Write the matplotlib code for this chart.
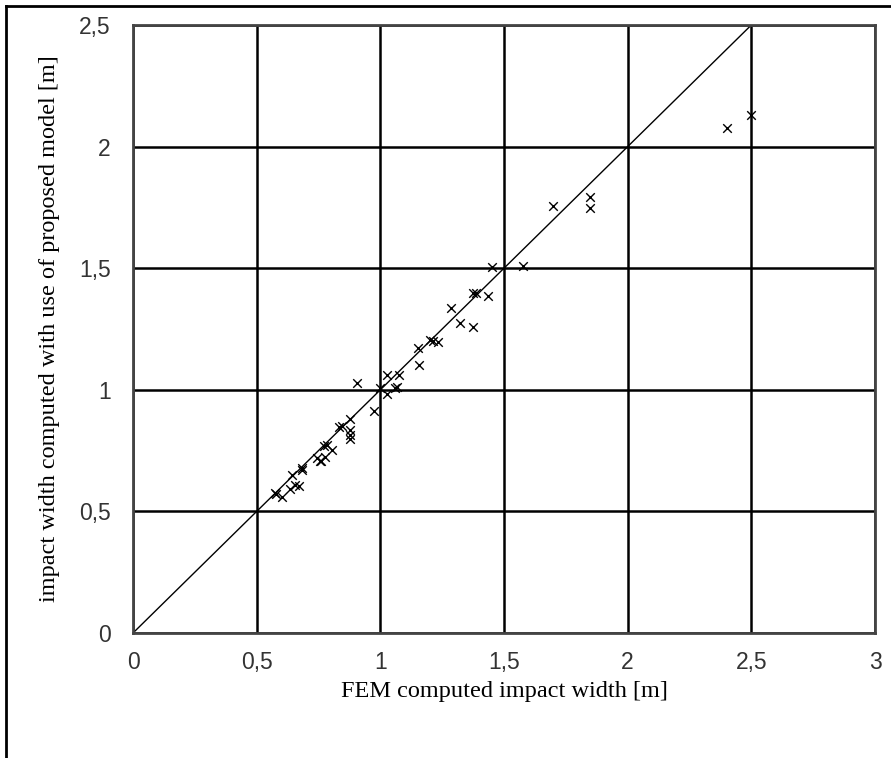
import matplotlib.pyplot as plt
from matplotlib.lines import Line2D
from matplotlib.ticker import FuncFormatter

# FEM computed vs model computed impact width [m]
fem = [0.574, 0.580, 0.601, 0.635, 0.642, 0.655, 0.673, 0.682, 0.682,
       0.743, 0.756, 0.759, 0.772, 0.776, 0.786, 0.803, 0.834, 0.846,
       0.877, 0.877, 0.877, 0.877, 0.904, 0.975, 0.998, 1.026, 1.026,
       1.059, 1.066, 1.077, 1.154, 1.158, 1.200, 1.214, 1.235, 1.285,
       1.322, 1.376, 1.376, 1.387, 1.437, 1.450, 1.578, 1.700, 1.848,
       1.848, 2.400, 2.500]
model = [0.577, 0.572, 0.558, 0.591, 0.650, 0.609, 0.604, 0.677, 0.672,
         0.718, 0.706, 0.708, 0.769, 0.725, 0.773, 0.752, 0.846, 0.852,
         0.879, 0.835, 0.814, 0.796, 1.027, 0.914, 1.006, 1.061, 0.983,
         1.006, 1.010, 1.061, 1.171, 1.100, 1.205, 1.202, 1.198, 1.335,
         1.276, 1.399, 1.260, 1.400, 1.387, 1.504, 1.510, 1.757, 1.794,
         1.746, 2.075, 2.130]

xticks = [0, 0.5, 1, 1.5, 2, 2.5, 3]
yticks = [0, 0.5, 1, 1.5, 2, 2.5]

fig = plt.figure(figsize=(8.91, 7.58), dpi=100)
ax = fig.add_axes([133 / 891, 1 - 633 / 758, (875 - 133) / 891, (633 - 25) / 758])

ax.plot([0, 2.5], [0, 2.5], color="black", lw=1.0, zorder=2)
ax.scatter(fem, model, marker="x", s=38, color="black", linewidths=1.0, zorder=3)

ax.set_xlim(0, 3)
ax.set_ylim(0, 2.5)
ax.set_xticks(xticks)
ax.set_yticks(yticks)
comma = FuncFormatter(lambda v, p: ("%g" % v).replace(".", ","))
ax.xaxis.set_major_formatter(comma)
ax.yaxis.set_major_formatter(comma)
ax.tick_params(length=0, labelsize=16.5, colors="#333333")
ax.tick_params(axis="x", pad=13)
ax.tick_params(axis="y", pad=16)
for lab in ax.get_xticklabels() + ax.get_yticklabels():
    lab.set_family("Liberation Sans")
ax.grid(True, color="black", lw=1.8, zorder=1)
ax.set_axisbelow(True)
for sp in ax.spines.values():
    sp.set_color("#444444")
    sp.set_linewidth(2)

ax.set_xlabel("FEM computed impact width [m]", family="Liberation Serif",
              fontsize=17.5, labelpad=5)
ax.set_ylabel("impact width computed with use of proposed model [m]",
              family="Liberation Serif", fontsize=17.5, labelpad=14)

# outer chart frame (cropped on the right and bottom)
fig.add_artist(Line2D([6 / 891, 1], [1 - 6 / 758, 1 - 6 / 758],
                      transform=fig.transFigure, color="black", lw=2))
fig.add_artist(Line2D([6 / 891, 6 / 891], [0, 1 - 6 / 758],
                      transform=fig.transFigure, color="black", lw=2))

fig.savefig("out.png", dpi=100)
